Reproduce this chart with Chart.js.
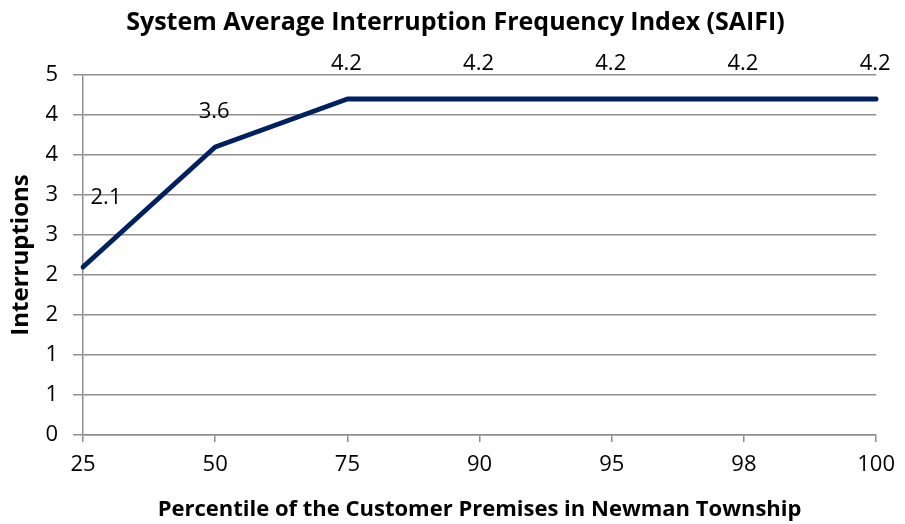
<!DOCTYPE html>
<html>
<head>
<meta charset="utf-8">
<script src="https://cdn.jsdelivr.net/npm/chart.js@4/dist/chart.umd.min.js"></script>
<style>
  html, body { margin: 0; padding: 0; background: #ffffff; }
  #wrap { width: 905px; height: 524px; }
</style>
</head>
<body>
<div id="wrap"><canvas id="saifi" width="905" height="524"></canvas></div>
<script>
// Percentile categories along the horizontal axis
const percentiles = ['25', '50', '75', '90', '95', '98', '100'];
// SAIFI value (interruptions) at each percentile
const interruptions = [2.1, 3.6, 4.2, 4.2, 4.2, 4.2, 4.2];
// Value axis labels, shown with no decimals (0, 0.5, 1, ... 4.5)
const yTickLabels = ['0', '1', '1', '2', '2', '3', '3', '4', '4', '5'];

const FONT = '"Open Sans", Lato, "DejaVu Sans", sans-serif';
const GRID = '#8e8e8e';
const PAD_LEFT = 32;

// Writes each point's value above it
const valueLabels = {
  id: 'valueLabels',
  afterDatasetsDraw(chart) {
    const ctx = chart.ctx;
    const meta = chart.getDatasetMeta(0);
    const values = chart.data.datasets[0].data;
    ctx.save();
    ctx.font = '22px ' + FONT;
    ctx.fillStyle = '#000000';
    ctx.textAlign = 'center';
    ctx.textBaseline = 'middle';
    meta.data.forEach((pt, i) => {
      const dx = i === 0 ? 23 : -1;
      const dy = i === 0 ? -69 : -35;
      ctx.fillText(values[i].toFixed(1), pt.x + dx, pt.y + dy);
    });
    ctx.restore();
  }
};

new Chart(document.getElementById('saifi'), {
  type: 'line',
  data: {
    labels: percentiles,
    datasets: [{
      data: interruptions,
      borderColor: '#002060',
      backgroundColor: '#002060',
      borderWidth: 5,
      borderCapStyle: 'round',
      borderJoinStyle: 'round',
      pointRadius: 0,
      tension: 0,
      fill: false
    }]
  },
  options: {
    responsive: false,
    animation: false,
    devicePixelRatio: 1,
    layout: { padding: { left: PAD_LEFT, right: 26, top: 0, bottom: 0 } },
    plugins: {
      legend: { display: false },
      tooltip: { enabled: false },
      title: {
        display: true,
        text: 'System Average Interruption Frequency Index (SAIFI)',
        color: '#000000',
        font: { family: FONT, size: 25, weight: 'bold', lineHeight: 1.2 },
        padding: { top: 8, bottom: 37 }
      }
    },
    scales: {
      x: {
        type: 'category',
        offset: false,
        grid: {
          drawOnChartArea: false,
          drawTicks: true,
          tickLength: 7,
          color: GRID,
          lineWidth: 1.5
        },
        border: { display: true, color: GRID, width: 1.5 },
        ticks: {
          color: '#000000',
          font: { family: FONT, size: 22 },
          padding: 10,
          maxRotation: 0,
          autoSkip: false
        },
        title: {
          display: true,
          text: 'Percentile of the Customer Premises in Newman Township',
          color: '#000000',
          font: { family: FONT, size: 22, weight: 'bold', lineHeight: 1.2 },
          padding: { top: 0, bottom: 1 }
        },
        afterFit(scale) { scale.height = 89; }
      },
      y: {
        min: 0,
        max: 4.5,
        grid: {
          color: GRID,
          lineWidth: 1.5,
          drawTicks: true,
          tickLength: 10
        },
        border: { display: true, color: GRID, width: 1.5 },
        ticks: {
          stepSize: 0.5,
          color: '#000000',
          font: { family: FONT, size: 22 },
          padding: 15,
          callback: (value, index) => yTickLabels[index]
        },
        title: {
          display: true,
          text: 'Interruptions',
          color: '#000000',
          font: { family: FONT, size: 24, weight: 'bold', lineHeight: 1.2 },
          // pulls the axis title back toward the canvas edge, left of the padded area
          padding: { top: 7 - PAD_LEFT, bottom: 0 }
        },
        afterFit(scale) { scale.width = 83 - PAD_LEFT; }
      }
    }
  },
  plugins: [valueLabels]
});
</script>
</body>
</html>
